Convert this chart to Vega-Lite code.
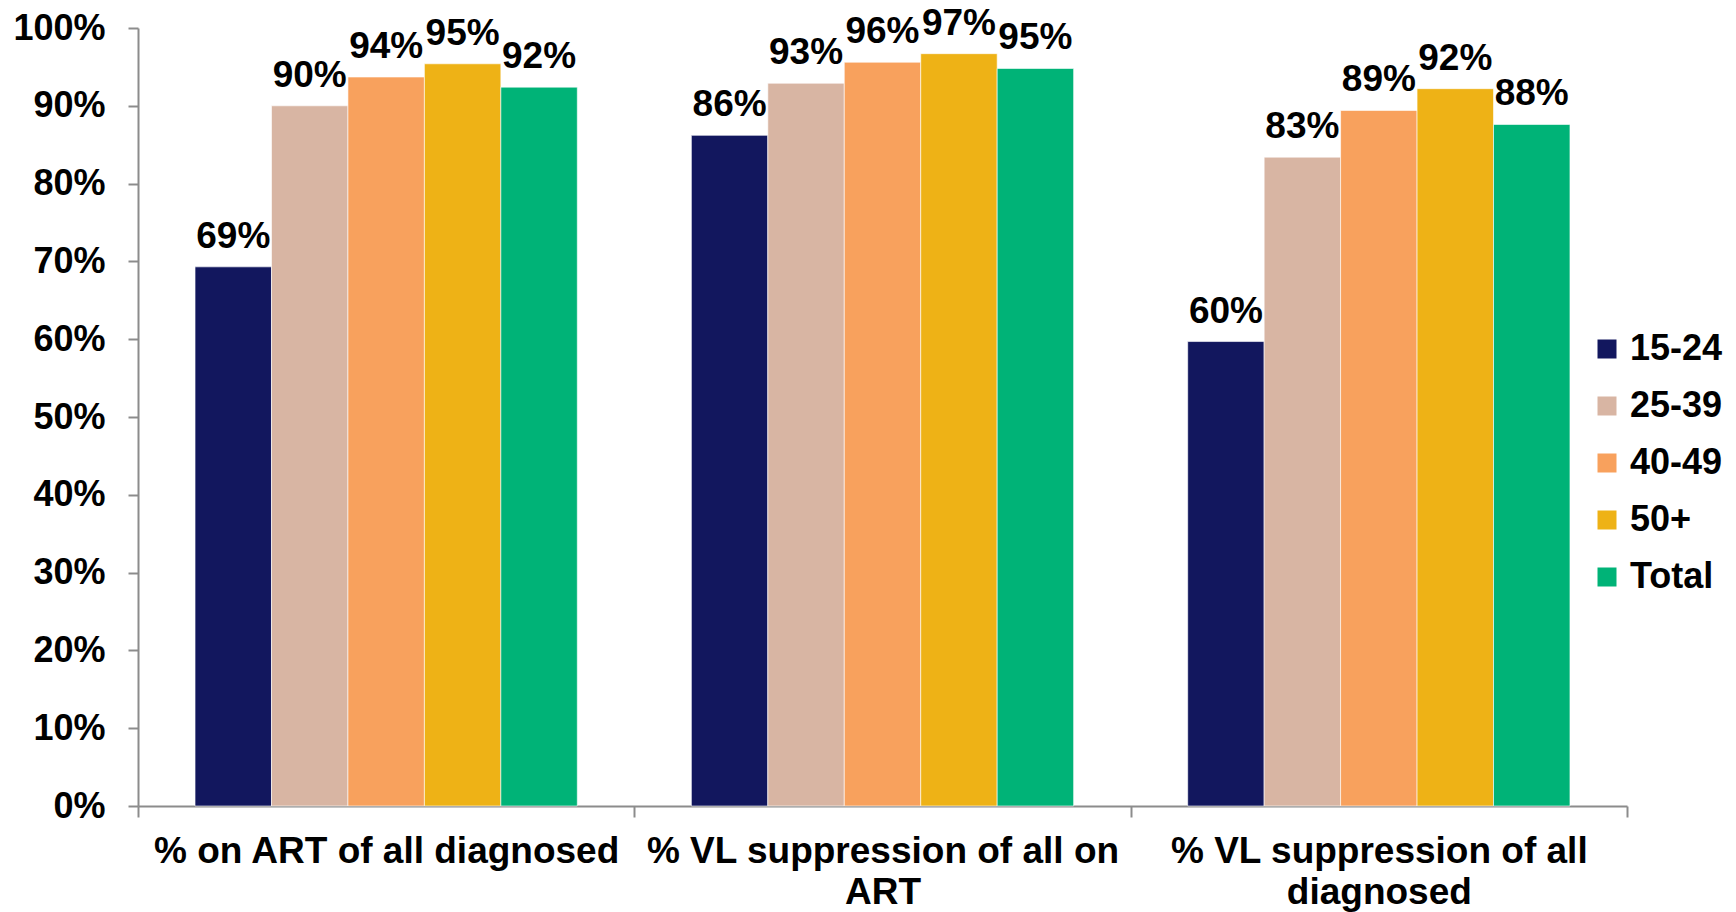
{
  "$schema": "https://vega.github.io/schema/vega-lite/v6.json",
  "width": 1489,
  "height": 778,
  "autosize": {"type": "none"},
  "padding": {"left": 138, "top": 28, "right": 109, "bottom": 106},
  "background": "white",
  "config": {"view": {"stroke": null}, "font": "Liberation Sans"},
  "data": {
    "values": [
      {"metric": "% on ART of all diagnosed", "group": "15-24", "value": 0.693},
      {"metric": "% on ART of all diagnosed", "group": "25-39", "value": 0.900},
      {"metric": "% on ART of all diagnosed", "group": "40-49", "value": 0.937},
      {"metric": "% on ART of all diagnosed", "group": "50+", "value": 0.954},
      {"metric": "% on ART of all diagnosed", "group": "Total", "value": 0.924},
      {"metric": "% VL suppression of all on ART", "group": "15-24", "value": 0.862},
      {"metric": "% VL suppression of all on ART", "group": "25-39", "value": 0.929},
      {"metric": "% VL suppression of all on ART", "group": "40-49", "value": 0.956},
      {"metric": "% VL suppression of all on ART", "group": "50+", "value": 0.967},
      {"metric": "% VL suppression of all on ART", "group": "Total", "value": 0.948},
      {"metric": "% VL suppression of all diagnosed", "group": "15-24", "value": 0.597},
      {"metric": "% VL suppression of all diagnosed", "group": "25-39", "value": 0.834},
      {"metric": "% VL suppression of all diagnosed", "group": "40-49", "value": 0.894},
      {"metric": "% VL suppression of all diagnosed", "group": "50+", "value": 0.922},
      {"metric": "% VL suppression of all diagnosed", "group": "Total", "value": 0.876}
    ]
  },
  "encoding": {
    "x": {
      "field": "metric",
      "type": "nominal",
      "sort": ["% on ART of all diagnosed", "% VL suppression of all on ART", "% VL suppression of all diagnosed"],
      "scale": {"paddingInner": 0, "paddingOuter": 0},
      "axis": {
        "title": null,
        "labelAngle": 0,
        "tickBand": "extent",
        "domainColor": "#8c8c8c",
        "domainWidth": 2,
        "tickColor": "#8c8c8c",
        "tickWidth": 2,
        "tickSize": 11,
        "labelFontSize": 37,
        "labelFontWeight": "bold",
        "labelColor": "black",
        "labelPadding": 16,
        "labelLimit": 0,
        "labelLineHeight": 41,
        "labelBaseline": "top",
        "labelExpr": "datum.value == '% VL suppression of all on ART' ? ['% VL suppression of all on', 'ART'] : datum.value == '% VL suppression of all diagnosed' ? ['% VL suppression of all', 'diagnosed'] : datum.value"
      }
    },
    "xOffset": {
      "field": "group",
      "type": "nominal",
      "sort": ["15-24", "25-39", "40-49", "50+", "Total"],
      "scale": {"paddingInner": 0, "paddingOuter": 0.746}
    },
    "y": {
      "field": "value",
      "type": "quantitative",
      "scale": {"domain": [0, 1], "nice": false},
      "axis": {
        "title": null,
        "grid": false,
        "values": [0, 0.1, 0.2, 0.3, 0.4, 0.5, 0.6, 0.7, 0.8, 0.9, 1],
        "format": ".0%",
        "domainColor": "#8c8c8c",
        "domainWidth": 2,
        "tickColor": "#8c8c8c",
        "tickWidth": 2,
        "tickSize": 10,
        "labelFontSize": 36,
        "labelFontWeight": "bold",
        "labelColor": "black",
        "labelPadding": 23
      }
    }
  },
  "layer": [
    {
      "mark": {"type": "bar", "stroke": "white", "strokeWidth": 1, "strokeOpacity": 0.6},
      "encoding": {
        "color": {
          "field": "group",
          "type": "nominal",
          "scale": {
            "domain": ["15-24", "25-39", "40-49", "50+", "Total"],
            "range": ["#12175e", "#d8b5a3", "#f8a15d", "#eeb216", "#00b377"]
          },
          "legend": {
            "title": null,
            "orient": "none",
            "legendX": 1451,
            "legendY": 303,
            "symbolType": "square",
            "symbolSize": 361,
            "symbolStrokeWidth": 0,
            "symbolOpacity": 1,
            "labelFontSize": 36,
            "labelFontWeight": "bold",
            "labelColor": "black",
            "labelOffset": 5,
            "rowPadding": 21
          }
        }
      }
    },
    {
      "mark": {"type": "text", "baseline": "alphabetic", "dy": -19, "fontSize": 37, "fontWeight": "bold", "color": "black"},
      "encoding": {
        "text": {"field": "value", "type": "quantitative", "format": ".0%"}
      }
    }
  ]
}
